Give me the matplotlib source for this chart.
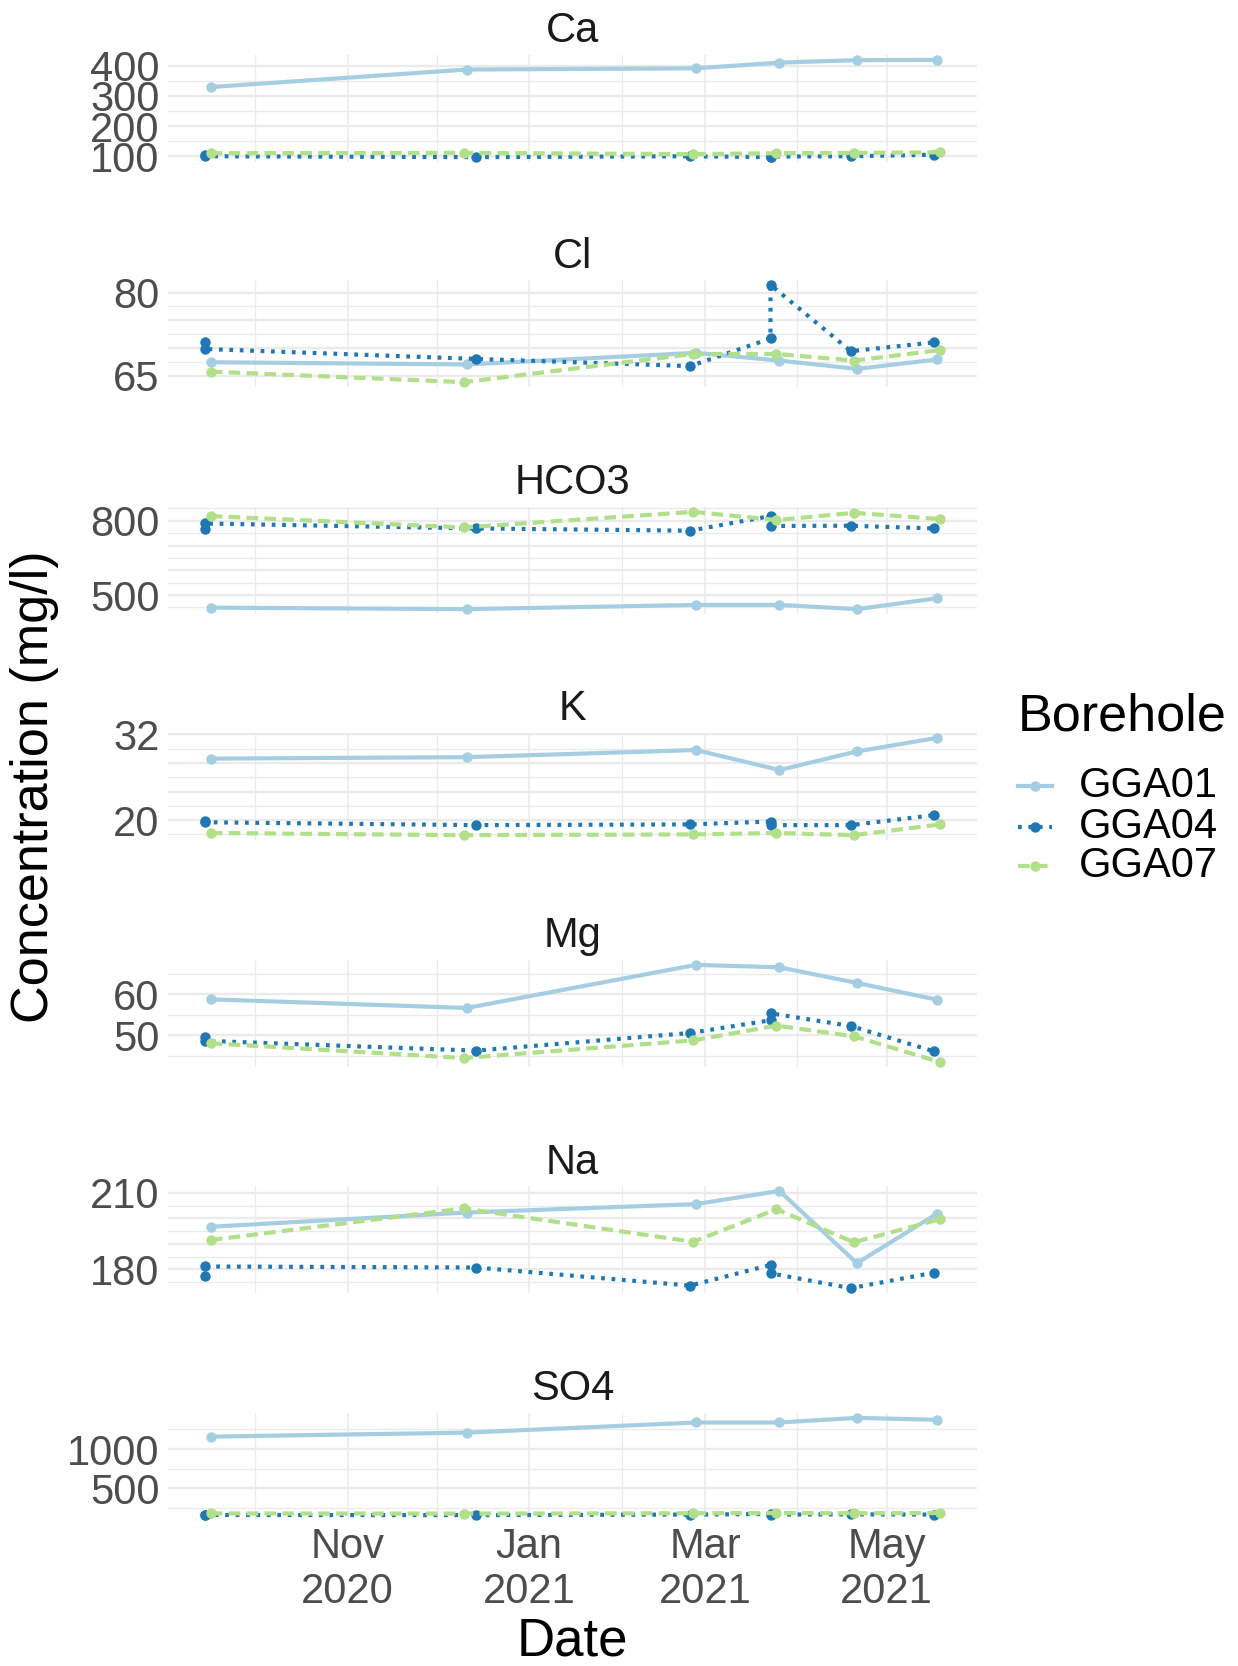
import matplotlib
matplotlib.use("Agg")
import matplotlib.pyplot as plt
import matplotlib.dates as mdates
from matplotlib.lines import Line2D
import numpy as np

plt.rcParams['font.family'] = ['Liberation Sans', 'DejaVu Sans']

# --- data ---
params = ['Ca', 'Cl', 'HCO3', 'K', 'Mg', 'Na', 'SO4']
boreholes = ['GGA01', 'GGA04', 'GGA07']

dates_gga01 = ['2020-09-16', '2020-12-11', '2021-02-26', '2021-03-26', '2021-04-21', '2021-05-18']
dates_gga04 = ['2020-09-14', '2020-09-14', '2020-12-14', '2021-02-24', '2021-03-23', '2021-03-23',
               '2021-04-19', '2021-05-17']
dates_gga07 = ['2020-09-16', '2020-12-10', '2021-02-25', '2021-03-25', '2021-04-20', '2021-05-19']

ca_gga01 = [329, 387, 391, 410, 418, 419]
ca_gga04 = [103, 100, 97, 100, 97, 99, 100, 105]
ca_gga07 = [110, 111, 107, 110, 111, 113]

cl_gga01 = [67.4, 67.0, 69.1, 67.7, 66.2, 67.9]
cl_gga04 = [71.0, 69.8, 68.0, 66.7, 71.7, 81.4, 69.4, 71.0]
cl_gga07 = [65.7, 63.8, 68.9, 68.9, 67.7, 69.6]

hco3_gga01 = [449, 443, 460, 460, 443, 487]
hco3_gga04 = [765, 789, 769, 760, 819, 779, 780, 769]
hco3_gga07 = [819, 773, 836, 803, 832, 807]

k_gga01 = [28.6, 28.8, 29.8, 27.0, 29.6, 31.5]
k_gga04 = [19.9, 19.7, 19.3, 19.4, 19.8, 19.3, 19.3, 20.7]
k_gga07 = [18.2, 17.9, 18.0, 18.2, 17.9, 19.4]

mg_gga01 = [58.8, 56.7, 67.2, 66.6, 62.8, 58.7]
mg_gga04 = [49.6, 48.7, 46.3, 50.6, 53.7, 55.4, 52.3, 46.1]
mg_gga07 = [48.1, 44.5, 48.8, 52.4, 49.8, 43.5]

na_gga01 = [196.7, 202.3, 205.6, 210.8, 182.4, 201.9]
na_gga04 = [177.4, 181.1, 180.7, 173.6, 181.7, 178.4, 172.6, 178.7]
na_gga07 = [191.5, 203.9, 190.8, 203.6, 190.6, 199.7]

so4_gga01 = [1158, 1209, 1338, 1338, 1397, 1372]
so4_gga04 = [165, 160, 158, 165, 172, 165, 168, 165]
so4_gga07 = [180, 178, 182, 185, 182, 185]

# y breaks per facet: major, minor, labelled
y_major = {'Ca': [100, 200, 300, 400], 'Cl': [65, 70, 75, 80], 'HCO3': [500, 600, 700, 800],
           'K': [20, 24, 28, 32], 'Mg': [50, 60], 'Na': [180, 190, 200, 210], 'SO4': [500, 1000]}
y_minor = {'Ca': [150, 250, 350], 'Cl': [67.5, 72.5, 77.5], 'HCO3': [450, 550, 650, 750, 850],
           'K': [18, 22, 26, 30], 'Mg': [45, 55, 65], 'Na': [175, 185, 195, 205], 'SO4': [250, 750, 1250]}
y_labelled = {'Ca': [100, 200, 300, 400], 'Cl': [65, 80], 'HCO3': [500, 800], 'K': [20, 32],
              'Mg': [50, 60], 'Na': [180, 210], 'SO4': [500, 1000]}

dates = {'GGA01': dates_gga01, 'GGA04': dates_gga04, 'GGA07': dates_gga07}
values = {
    'Ca': {'GGA01': ca_gga01, 'GGA04': ca_gga04, 'GGA07': ca_gga07},
    'Cl': {'GGA01': cl_gga01, 'GGA04': cl_gga04, 'GGA07': cl_gga07},
    'HCO3': {'GGA01': hco3_gga01, 'GGA04': hco3_gga04, 'GGA07': hco3_gga07},
    'K': {'GGA01': k_gga01, 'GGA04': k_gga04, 'GGA07': k_gga07},
    'Mg': {'GGA01': mg_gga01, 'GGA04': mg_gga04, 'GGA07': mg_gga07},
    'Na': {'GGA01': na_gga01, 'GGA04': na_gga04, 'GGA07': na_gga07},
    'SO4': {'GGA01': so4_gga01, 'GGA04': so4_gga04, 'GGA07': so4_gga07},
}

colors = {'GGA01': '#A6CEE3', 'GGA04': '#1F78B4', 'GGA07': '#B2DF8A'}
styles = {'GGA01': '-', 'GGA04': (0, (0.9, 1.6)), 'GGA07': (0, (2.8, 1.5))}
LW = 3.0
MS = 7.5

W, H = 1238, 1666
fig = plt.figure(figsize=(W / 100, H / 100), dpi=100)

left, right = 168, 977
tops = [55, 280, 507, 733, 960, 1186, 1413]
panel_h = 107

# x range with ggplot-style 5% expansion
all_x = np.concatenate([mdates.datestr2num(d) for d in dates.values()])
xpad = 0.05 * (all_x.max() - all_x.min())
xlim = (all_x.min() - xpad, all_x.max() + xpad)

grid_col = '#EBEBEB'
for i, name in enumerate(params):
    top = tops[i]
    ax = fig.add_axes([left / W, 1 - (top + panel_h) / H, (right - left) / W, panel_h / H])
    ys = []
    for bh in boreholes:
        x = mdates.datestr2num(dates[bh])
        y = values[name][bh]
        ys += y
        ax.plot(x, y, color=colors[bh], linestyle=styles[bh], lw=LW,
                marker='o', ms=MS, mew=0, zorder=3)
    lo, hi = min(ys), max(ys)
    ypad = 0.05 * (hi - lo)
    ax.set_ylim(lo - ypad, hi + ypad)
    ax.set_xlim(*xlim)

    ax.set_yticks(y_major[name])
    ax.set_yticklabels([str(v) if v in y_labelled[name] else '' for v in y_major[name]])
    ax.set_yticks(y_minor[name], minor=True)

    ax.xaxis.set_major_locator(mdates.MonthLocator(bymonth=[11, 1, 3, 5]))
    ax.xaxis.set_minor_locator(mdates.MonthLocator(bymonth=[10, 12, 2, 4]))
    ax.xaxis.set_major_formatter(mdates.DateFormatter('%b\n%Y'))

    ax.grid(True, axis='y', which='major', color=grid_col, lw=1.7, zorder=0)
    ax.grid(True, axis='y', which='minor', color=grid_col, lw=1.0, zorder=0)
    ax.grid(True, axis='x', which='major', color=grid_col, lw=1.2, zorder=0)
    ax.grid(True, axis='x', which='minor', color=grid_col, lw=0.9, zorder=0)
    ax.set_axisbelow(True)
    for s in ax.spines.values():
        s.set_visible(False)
    ax.tick_params(which='both', length=0, labelsize=30, colors='#4D4D4D', pad=6)
    ax.tick_params(axis='x', pad=5)
    if i < len(params) - 1:
        ax.tick_params(axis='x', labelbottom=False)
    else:
        for lab in ax.get_xticklabels():
            lab.set_linespacing(1.15)
    ax.set_title(name, fontsize=30, color='#1A1A1A', pad=9)

fig.text(35 / W, 1 - 787 / H, 'Concentration (mg/l)', rotation=90, fontsize=37.5,
         ha='center', va='center')
fig.text((left + right) / 2 / W, 1 - 1641 / H, 'Date', fontsize=38, ha='center', va='center')

# legend drawn by hand to follow the ggplot guide layout
fig.text(1018 / W, 1 - 717 / H, 'Borehole', fontsize=37.5, ha='left', va='center')
key_y = [786, 827, 866]
for bh, yk in zip(boreholes, key_y):
    yf = 1 - yk / H
    fig.add_artist(Line2D([1018 / W, 1035 / W, 1052 / W], [yf, yf, yf], transform=fig.transFigure,
                          color=colors[bh], linestyle=styles[bh], lw=LW,
                          marker='o', ms=MS, mew=0, markevery=[1]))
    fig.text(1079 / W, yf, bh, fontsize=30, ha='left', va='center')

fig.savefig('out.png', dpi=100)
